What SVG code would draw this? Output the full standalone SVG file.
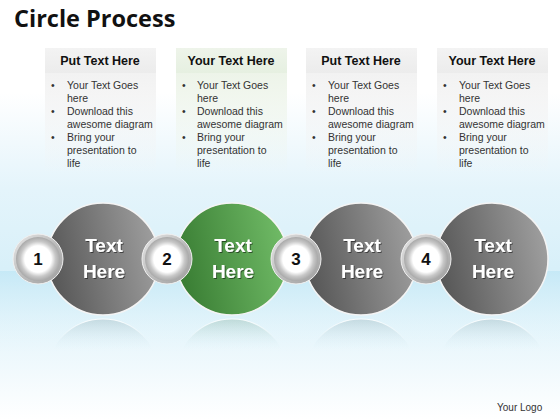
<svg xmlns="http://www.w3.org/2000/svg" width="560" height="420" viewBox="0 0 560 420">
<defs>
<linearGradient id="bg" x1="0" y1="0" x2="0" y2="1">
<stop offset="0" stop-color="#ffffff"/>
<stop offset="0.22" stop-color="#ffffff"/>
<stop offset="0.45" stop-color="#e4f4fb"/>
<stop offset="0.64" stop-color="#d8f0f9"/>
<stop offset="0.82" stop-color="#eaf7fc"/>
<stop offset="1" stop-color="#ffffff"/>
</linearGradient>
<linearGradient id="band" x1="0" y1="0" x2="0" y2="1">
<stop offset="0" stop-color="#c4e8f6" stop-opacity="0.9"/>
<stop offset="1" stop-color="#e4f5fb" stop-opacity="0"/>
</linearGradient>
<linearGradient id="gray" x1="0" y1="0.3" x2="1" y2="0.1">
<stop offset="0" stop-color="#595959"/>
<stop offset="1" stop-color="#a3a3a3"/>
</linearGradient>
<linearGradient id="green" x1="0" y1="0.3" x2="1" y2="0.1">
<stop offset="0" stop-color="#3b7f35"/>
<stop offset="1" stop-color="#74bf6a"/>
</linearGradient>
<radialGradient id="ring" cx="0.5" cy="0.5" r="0.5">
<stop offset="0.6" stop-color="#ffffff"/>
<stop offset="0.8" stop-color="#c8c8c8"/>
<stop offset="1" stop-color="#a8a8a8"/>
</radialGradient>
<linearGradient id="ringlin" x1="0" y1="0" x2="1" y2="1">
<stop offset="0" stop-color="#e8e8e8"/>
<stop offset="0.5" stop-color="#bdbdbd"/>
<stop offset="1" stop-color="#9e9e9e"/>
</linearGradient>
<linearGradient id="head" x1="0" y1="0" x2="0" y2="1">
<stop offset="0" stop-color="#f3f3f3"/>
<stop offset="1" stop-color="#ececec"/>
</linearGradient>
<linearGradient id="headg" x1="0" y1="0" x2="0" y2="1">
<stop offset="0" stop-color="#eef4ea"/>
<stop offset="1" stop-color="#e6f0e1"/>
</linearGradient>
<linearGradient id="body" x1="0" y1="0" x2="0" y2="1">
<stop offset="0" stop-color="#f2f2f2"/>
<stop offset="1" stop-color="#f2f2f2" stop-opacity="0"/>
</linearGradient>
<linearGradient id="bodyg" x1="0" y1="0" x2="0" y2="1">
<stop offset="0" stop-color="#edf4e9"/>
<stop offset="1" stop-color="#edf4e9" stop-opacity="0"/>
</linearGradient>
<linearGradient id="refl" gradientUnits="userSpaceOnUse" x1="0" y1="319" x2="0" y2="350">
<stop offset="0" stop-color="#7f9aa0" stop-opacity="0.28"/>
<stop offset="1" stop-color="#c8e6f0" stop-opacity="0"/>
</linearGradient>
<linearGradient id="reflg" gradientUnits="userSpaceOnUse" x1="0" y1="319" x2="0" y2="350">
<stop offset="0" stop-color="#6f9f88" stop-opacity="0.3"/>
<stop offset="1" stop-color="#c8e6f0" stop-opacity="0"/>
</linearGradient>
<linearGradient id="reflstroke" gradientUnits="userSpaceOnUse" x1="0" y1="319" x2="0" y2="340">
<stop offset="0" stop-color="#ffffff" stop-opacity="0.9"/>
<stop offset="1" stop-color="#ffffff" stop-opacity="0"/>
</linearGradient>
<clipPath id="rc"><rect x="0" y="316" width="560" height="34"/></clipPath>
<filter id="sh" x="-10%" y="-10%" width="130%" height="130%">
<feDropShadow dx="1" dy="1" stdDeviation="0.6" flood-color="#000" flood-opacity="0.5"/>
</filter>
</defs>
<style>
.title{font-family:"Open Sans","Liberation Sans",sans-serif;font-weight:bold;font-size:23.5px;fill:#111}
.hd{font-family:"Liberation Sans","Noto Sans",sans-serif;font-weight:bold;font-size:12.5px;fill:#111;text-anchor:middle}
.bl{font-family:"Liberation Sans","Noto Sans",sans-serif;font-size:10.5px;fill:#333}
.big{font-family:"Liberation Sans","Noto Sans",sans-serif;font-weight:bold;font-size:19px;fill:#fff;text-anchor:middle}
.num{font-family:"Liberation Sans","Noto Sans",sans-serif;font-weight:bold;font-size:17px;fill:#111;text-anchor:middle}
.logo{font-family:"Liberation Sans","Noto Sans",sans-serif;font-size:10px;fill:#333}
.bigc{stroke:#f4f4f4;stroke-width:1.5}
.rf{stroke:url(#reflstroke);stroke-width:1.2}
</style>
<rect width="560" height="420" fill="url(#bg)"/>
<rect x="0" y="271" width="560" height="80" fill="url(#band)"/>
<text class="title" x="14" y="27">Circle Process</text>

<g id="box1">
<rect x="45" y="48" width="111" height="25" fill="url(#head)"/>
<rect x="45" y="73" width="111" height="100" fill="url(#body)"/>
<text class="hd" x="100" y="65">Put Text Here</text>
<g class="bl"><text x="51" y="89">•</text><text x="67" y="89">Your Text Goes</text><text x="67" y="102">here</text><text x="51" y="115">•</text><text x="67" y="115">Download this</text><text x="67" y="128">awesome diagram</text><text x="51" y="141">•</text><text x="67" y="141">Bring your</text><text x="67" y="154">presentation to</text><text x="67" y="167">life</text></g>
</g>
<g id="box2">
<rect x="176" y="48" width="111" height="25" fill="url(#headg)"/>
<rect x="176" y="73" width="111" height="100" fill="url(#bodyg)"/>
<text class="hd" x="231" y="65">Your Text Here</text>
<g class="bl"><text x="182" y="89">•</text><text x="197" y="89">Your Text Goes</text><text x="197" y="102">here</text><text x="182" y="115">•</text><text x="197" y="115">Download this</text><text x="197" y="128">awesome diagram</text><text x="182" y="141">•</text><text x="197" y="141">Bring your</text><text x="197" y="154">presentation to</text><text x="197" y="167">life</text></g>
</g>
<g id="box3">
<rect x="306" y="48" width="111" height="25" fill="url(#head)"/>
<rect x="306" y="73" width="111" height="100" fill="url(#body)"/>
<text class="hd" x="361" y="65">Put Text Here</text>
<g class="bl"><text x="312" y="89">•</text><text x="328" y="89">Your Text Goes</text><text x="328" y="102">here</text><text x="312" y="115">•</text><text x="328" y="115">Download this</text><text x="328" y="128">awesome diagram</text><text x="312" y="141">•</text><text x="328" y="141">Bring your</text><text x="328" y="154">presentation to</text><text x="328" y="167">life</text></g>
</g>
<g id="box4">
<rect x="437" y="48" width="111" height="25" fill="url(#head)"/>
<rect x="437" y="73" width="111" height="100" fill="url(#body)"/>
<text class="hd" x="492" y="65">Your Text Here</text>
<g class="bl"><text x="443" y="89">•</text><text x="459" y="89">Your Text Goes</text><text x="459" y="102">here</text><text x="443" y="115">•</text><text x="459" y="115">Download this</text><text x="459" y="128">awesome diagram</text><text x="443" y="141">•</text><text x="459" y="141">Bring your</text><text x="459" y="154">presentation to</text><text x="459" y="167">life</text></g>
</g>

<g id="reflections" clip-path="url(#rc)">
<circle class="rf" cx="103" cy="375" r="56" fill="url(#refl)"/>
<circle class="rf" cx="232" cy="375" r="56" fill="url(#reflg)"/>
<circle class="rf" cx="361" cy="375" r="56" fill="url(#refl)"/>
<circle class="rf" cx="492" cy="375" r="56" fill="url(#refl)"/>
</g>

<g id="circle1">
<circle class="bigc" cx="103" cy="259" r="56" fill="url(#gray)"/>
<text class="big" x="104" y="252" filter="url(#sh)">Text</text>
<text class="big" x="104" y="278" filter="url(#sh)">Here</text>
</g>
<g id="circle2">
<circle class="bigc" cx="232" cy="259" r="56" fill="url(#green)"/>
<text class="big" x="233" y="252" filter="url(#sh)">Text</text>
<text class="big" x="233" y="278" filter="url(#sh)">Here</text>
</g>
<g id="circle3">
<circle class="bigc" cx="361" cy="259" r="56" fill="url(#gray)"/>
<text class="big" x="362" y="252" filter="url(#sh)">Text</text>
<text class="big" x="362" y="278" filter="url(#sh)">Here</text>
</g>
<g id="circle4">
<circle class="bigc" cx="492" cy="259" r="56" fill="url(#gray)"/>
<text class="big" x="493" y="252" filter="url(#sh)">Text</text>
<text class="big" x="493" y="278" filter="url(#sh)">Here</text>
</g>

<g id="step1">
<circle cx="38" cy="259" r="25" fill="url(#ringlin)" stroke="#f0f0f0" stroke-width="1"/>
<circle cx="38" cy="259" r="22" fill="url(#ring)"/>
<text class="num" x="38" y="265">1</text>
</g>
<g id="step2">
<circle cx="167" cy="259" r="25" fill="url(#ringlin)" stroke="#f0f0f0" stroke-width="1"/>
<circle cx="167" cy="259" r="22" fill="url(#ring)"/>
<text class="num" x="167" y="265">2</text>
</g>
<g id="step3">
<circle cx="296" cy="259" r="25" fill="url(#ringlin)" stroke="#f0f0f0" stroke-width="1"/>
<circle cx="296" cy="259" r="22" fill="url(#ring)"/>
<text class="num" x="296" y="265">3</text>
</g>
<g id="step4">
<circle cx="426" cy="259" r="25" fill="url(#ringlin)" stroke="#f0f0f0" stroke-width="1"/>
<circle cx="426" cy="259" r="22" fill="url(#ring)"/>
<text class="num" x="426" y="265">4</text>
</g>
<g id="connectors"/>
<text class="logo" x="497" y="411">Your Logo</text>
</svg>
